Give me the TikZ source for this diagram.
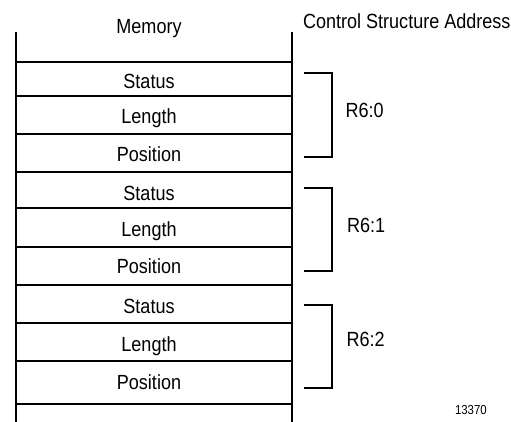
\documentclass[tikz,border=0pt]{standalone}
\usepackage{fontspec}
\setmainfont[FakeStretch=0.88]{Liberation Sans}
\begin{document}
\begin{tikzpicture}[x=1pt,y=-1pt,line width=2pt,
    cell/.style={anchor=base,font=\fontsize{20.5}{23}\selectfont,inner sep=0pt},
    addr/.style={anchor=base west,font=\fontsize{20.5}{23}\selectfont,inner sep=0pt}]
    \useasboundingbox (0,0) rectangle (511,421);
    % memory column
    \draw (15.5,31.7) -- (15.5,425);
    \draw (291.5,31.7) -- (291.5,425);
    \draw (15.5,62) -- (291.5,62);
    \draw (15.5,96) -- (291.5,96);
    \draw (15.5,134) -- (291.5,134);
    \draw (15.5,172) -- (291.5,172);
    \draw (15.5,208) -- (291.5,208);
    \draw (15.5,246.5) -- (291.5,246.5);
    \draw (15.5,284.5) -- (291.5,284.5);
    \draw (15.5,323) -- (291.5,323);
    \draw (15.5,361) -- (291.5,361);
    \draw (15.5,404) -- (291.5,404);

    % brackets
    \draw (304,72.7) -- (332,72.7) -- (332,156.7) -- (304,156.7);
    \draw (304,187.7) -- (332,187.7) -- (332,271) -- (304,271);
    \draw (304,305) -- (332,305) -- (332,388.3) -- (304,388.3);

    \node[cell] (mem) at (149,33) {Memory};
    \node[addr] (csa) at (302,28) {Control Structure Address};

    \node[cell] (st0) at (149,88.3) {Status};
    \node[cell] (ln0) at (149,123.3) {Length};
    \node[cell] (ps0) at (149,161.7) {Position};
    \node[cell] (st1) at (149,200.7) {Status};
    \node[cell] (ln1) at (149,236.7) {Length};
    \node[cell] (ps1) at (149,273) {Position};
    \node[cell] (st2) at (149,313) {Status};
    \node[cell] (ln2) at (149,351.7) {Length};
    \node[cell] (ps2) at (149,389) {Position};

    \node[addr] (r0) at (344.5,117) {R6:0};
    \node[addr] (r1) at (346,232.7) {R6:1};
    \node[addr] (r2) at (345.5,346.7) {R6:2};

    \node[anchor=base west,inner sep=0pt,font=\fontsize{13}{15}\selectfont] (fig) at (454,414.3) {13370};
\end{tikzpicture}
\end{document}
